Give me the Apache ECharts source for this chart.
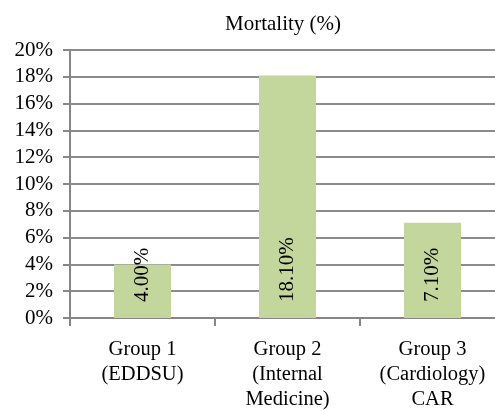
<!DOCTYPE html>
<html>
<head>
<meta charset="utf-8">
<style>
html,body{margin:0;padding:0;background:#fff;}
#chart{width:495px;height:411px;}
</style>
<script src="https://cdn.jsdelivr.net/npm/echarts@6/dist/echarts.min.js"></script>
</head>
<body>
<div id="chart"></div>
<script>
var categories = ["Group 1\n(EDDSU)", "Group 2\n(Internal\nMedicine)", "Group 3\n(Cardiology)\nCAR"];
var mortality = [4.0, 18.1, 7.1];
var yMin = 0, yMax = 20, yStep = 2;

var font = "'Liberation Serif', 'Times New Roman', serif";
var myChart = echarts.init(document.getElementById('chart'));
var option = {
	animation: false,
	title: {
		text: "Mortality (%)",
		left: 278,
		textAlign: 'center',
		top: 9,
		textStyle: {fontFamily: font, fontSize: 21, fontWeight: 'normal', color: '#000'}
	},
	// plot runs past the right edge like the cropped original
	grid: {left: 70, width: 435, top: 50, height: 268, containLabel: false, outerBoundsMode: 'none'},
	xAxis: {
		type: 'category',
		data: categories,
		axisLine: {lineStyle: {color: '#868686', width: 2}},
		axisTick: {show: true, length: 8, lineStyle: {color: '#868686', width: 2}},
		axisLabel: {fontFamily: font, fontSize: 20.5, color: '#000', lineHeight: 25, margin: 19, interval: 0}
	},
	yAxis: {
		type: 'value',
		min: yMin, max: yMax, interval: yStep,
		axisLine: {show: true, lineStyle: {color: '#868686', width: 2}},
		axisTick: {show: true, length: 7, lineStyle: {color: '#868686', width: 2}},
		axisLabel: {fontFamily: font, fontSize: 21, color: '#000', margin: 17, formatter: '{value}%'},
		splitLine: {show: true, lineStyle: {color: '#8c8c8c', width: 2}}
	},
	series: [{
		type: 'bar',
		data: mortality,
		barWidth: 57,
		itemStyle: {color: '#c3d69b'},
		label: {
			show: true,
			position: 'insideBottom',
			rotate: 90,
			align: 'left',
			verticalAlign: 'middle',
			distance: 16,
			fontFamily: font,
			fontSize: 21,
			color: '#000',
			formatter: function(p){ return p.value.toFixed(2) + '%'; }
		}
	}]
};
myChart.setOption(option);
</script>
</body>
</html>
